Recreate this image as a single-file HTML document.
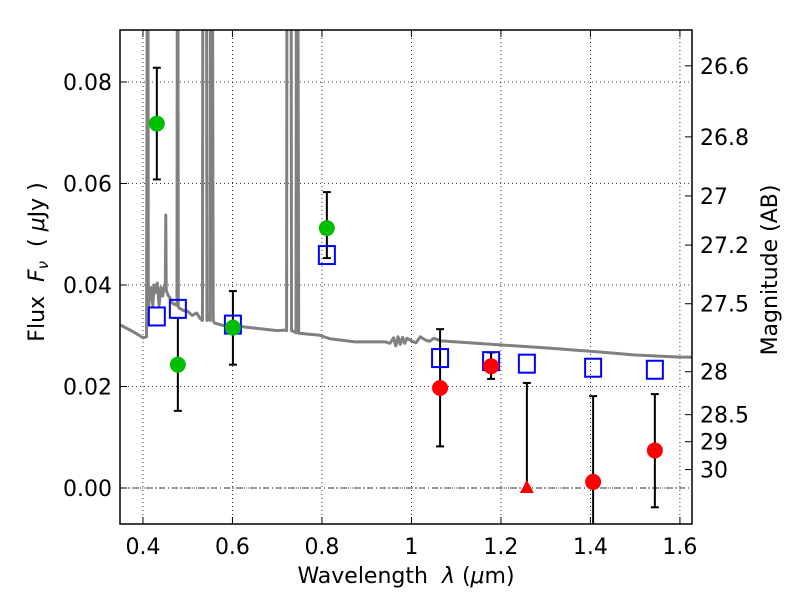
<!DOCTYPE html>
<html><head><meta charset="utf-8">
<style>
html,body{margin:0;padding:0;background:#fff;overflow:hidden;width:800px;height:600px;}
svg{display:block;}
svg text{font-family:"DejaVu Sans","Liberation Sans",sans-serif;}
</style></head>
<body>
<svg id="chart" width="800" height="600" viewBox="0 0 800 600" xmlns="http://www.w3.org/2000/svg">
<text x="406" y="583" font-size="22" text-anchor="middle" xml:space="preserve">Wavelength  <tspan font-style="italic">λ</tspan> (<tspan font-style="italic">μ</tspan>m)</text>
<text transform="translate(44,262) rotate(-90)" font-size="22" text-anchor="middle" xml:space="preserve">Flux  <tspan font-style="italic">F</tspan><tspan font-style="italic" font-size="15" dy="4">ν</tspan><tspan dy="-4">  ( </tspan><tspan font-style="italic">μ</tspan>Jy )</text>
<text transform="translate(777,270) rotate(-90)" font-size="22" text-anchor="middle">Magnitude (AB)</text>
</svg>
<script>
const xTicks=[0.4,0.6,0.8,1,1.2,1.4,1.6];
const xTickLabels=["0.4","0.6","0.8","1","1.2","1.4","1.6"];
const yTicks=[0,0.02,0.04,0.06,0.08];
const yTickLabels=["0.00","0.02","0.04","0.06","0.08"];
const magTicks=[26.6,26.8,27,27.2,27.5,28,28.5,29,30];
const magTickLabels=["26.6","26.8","27","27.2","27.5","28","28.5","29","30"];
const greenX=[0.431,0.478,0.601,0.811];
const greenY=[0.0718,0.0243,0.0316,0.0512];
const greenLo=[0.0608,0.0152,0.0243,0.0453];
const greenHi=[0.0828,0.0335,0.0388,0.0583];
const redX=[1.064,1.178,1.406,1.544];
const redY=[0.0197,0.0240,0.0012,0.0074];
const redLo=[0.0082,0.0215,-0.010,-0.0038];
const redHi=[0.0313,0.0267,0.0181,0.0185];
const triX=[1.258];
const triY=[0.0];
const triHi=[0.0207];
const modelX=[0.431,0.478,0.601,0.811,1.064,1.178,1.258,1.406,1.544];
const modelY=[0.0338,0.0353,0.0322,0.0459,0.0256,0.0250,0.0245,0.0237,0.0233];
const specX=[0.35,0.38,0.40,0.408,0.41,0.411,0.412,0.414,0.418,0.422,0.425,0.428,0.432,0.436,0.44,0.444,0.448,0.45,0.451,0.452,0.456,0.46,0.465,0.47,0.476,0.477,0.478,0.479,0.48,0.49,0.50,0.51,0.52,0.527,0.533,0.534,0.538,0.542,0.543,0.547,0.55,0.551,0.555,0.557,0.56,0.58,0.60,0.62,0.65,0.68,0.70,0.717,0.721,0.722,0.726,0.731,0.732,0.738,0.742,0.743,0.746,0.748,0.76,0.795,0.818,0.874,0.941,0.952,0.96,0.965,0.97,0.975,0.98,0.985,0.99,1.0,1.01,1.02,1.03,1.04,1.05,1.066,1.198,1.30,1.421,1.5,1.6,1.63];
const specY=[0.0321,0.0307,0.0296,0.0298,0.12,0.12,0.035,0.037,0.0395,0.036,0.040,0.0385,0.0404,0.036,0.0395,0.0378,0.040,0.0395,0.0538,0.039,0.038,0.0375,0.0365,0.0362,0.036,0.12,0.12,0.036,0.0355,0.035,0.0348,0.034,0.0345,0.0335,0.033,0.12,0.12,0.12,0.033,0.034,0.033,0.12,0.12,0.033,0.0325,0.032,0.0321,0.0318,0.0315,0.0312,0.031,0.0311,0.031,0.12,0.12,0.12,0.031,0.0308,0.0306,0.12,0.12,0.0305,0.0304,0.0301,0.0294,0.0288,0.0288,0.0285,0.0296,0.028,0.0298,0.0283,0.0297,0.0285,0.0295,0.029,0.0286,0.0298,0.0292,0.0289,0.0295,0.029,0.0282,0.0276,0.0268,0.0262,0.0258,0.0258];

const NS="http://www.w3.org/2000/svg";
const svg=document.getElementById('chart');
const L=120,R=692,T=30,B=524;
const xMin=0.3487,xMax=1.6270,yMin=-0.00709,yMax=0.09024;
const sx=v=>L+(v-xMin)/(xMax-xMin)*(R-L);
const sy=v=>B-(v-yMin)/(yMax-yMin)*(B-T);
const magToFlux=m=>Math.pow(10,(23.9-m)/2.5);
function el(tag,attrs,parent){const e=document.createElementNS(NS,tag);for(const k in attrs)e.setAttribute(k,attrs[k]);(parent||svg).appendChild(e);return e;}

const defs=el('defs',{});
const cp=el('clipPath',{id:'clip'},defs);
el('rect',{x:L,y:T,width:R-L,height:B-T},cp);

const grid=el('g',{});


xTicks.forEach(v=>{el('line',{x1:sx(v),x2:sx(v),y1:T,y2:B,stroke:'#000','stroke-width':0.8,'stroke-dasharray':'1,3'},grid);});
yTicks.forEach(v=>{el('line',{x1:L,x2:R,y1:sy(v),y2:sy(v),stroke:'#000','stroke-width':0.8,'stroke-dasharray':'1,3'},grid);});
const zl=el('line',{x1:L,x2:R,y1:sy(0),y2:sy(0),stroke:'#000','stroke-width':0.8,'stroke-dasharray':'6,3,1,3'});



const clipG=el('g',{'clip-path':'url(#clip)'});
const spec=el('polyline',{points:specX.map((x,i)=>sx(x)+','+sy(specY[i])).join(' '),fill:'none',stroke:'#808080','stroke-width':3,'stroke-linejoin':'round'},clipG);



function errbar(x,lo,hi,name,capLo){
  const g=el('g',{},clipG);
  
  
  el('line',{x1:sx(x),x2:sx(x),y1:sy(lo),y2:sy(hi),stroke:'#000','stroke-width':2},g);
  el('line',{x1:sx(x)-4,x2:sx(x)+4,y1:sy(hi),y2:sy(hi),stroke:'#000','stroke-width':2},g);
  if(capLo)el('line',{x1:sx(x)-4,x2:sx(x)+4,y1:sy(lo),y2:sy(lo),stroke:'#000','stroke-width':2},g);
}
greenX.forEach((x,i)=>errbar(x,greenLo[i],greenHi[i],'green-errorbar',true));
redX.forEach((x,i)=>errbar(x,redLo[i],redHi[i],'red-errorbar',redLo[i]>yMin));
triX.forEach((x,i)=>errbar(x,triY[i],triHi[i],'upper-limit-errorbar',false));

modelX.forEach((x,i)=>{
  const r=el('rect',{x:sx(x)-8,y:sy(modelY[i])-9,width:16,height:18,fill:'none',stroke:'#0000ff','stroke-width':2},clipG);
  
  
});
greenX.forEach((x,i)=>{
  const c=el('circle',{cx:sx(x),cy:sy(greenY[i]),r:8,fill:'#00bf00'},clipG);
  
  
});
redX.forEach((x,i)=>{
  const c=el('circle',{cx:sx(x),cy:sy(redY[i]),r:8,fill:'#ff0000'},clipG);
  
  
});
triX.forEach((x,i)=>{
  const X=sx(x),Y=sy(triY[i]);
  const p=el('polygon',{points:`${X},${Y-8} ${X-7},${Y+5} ${X+7},${Y+5}`,fill:'#ff0000'},clipG);
  
  
});

const frame=el('rect',{x:L,y:T,width:R-L,height:B-T,fill:'none',stroke:'#000','stroke-width':1.5});



const axes=el('g',{});


xTicks.forEach((v,i)=>{
  el('line',{x1:sx(v),x2:sx(v),y1:B,y2:B-7,stroke:'#000','stroke-width':1},axes);
  el('line',{x1:sx(v),x2:sx(v),y1:T,y2:T+7,stroke:'#000','stroke-width':1},axes);
  const t=el('text',{x:sx(v),y:B+30,'font-size':22,'text-anchor':'middle'},axes);
  t.textContent=xTickLabels[i];
  
  
});
yTicks.forEach((v,i)=>{
  el('line',{x1:L,x2:L+7,y1:sy(v),y2:sy(v),stroke:'#000','stroke-width':1},axes);
  const t=el('text',{x:L-8,y:sy(v)+8,'font-size':22,'text-anchor':'end'},axes);
  t.textContent=yTickLabels[i];
  
  
});
magTicks.forEach((m,i)=>{
  const y=sy(magToFlux(m));
  el('line',{x1:R,x2:R-7,y1:y,y2:y,stroke:'#000','stroke-width':1},axes);
  const t=el('text',{x:R+8,y:y+8,'font-size':22,'text-anchor':'start'},axes);
  t.textContent=magTickLabels[i];
  
  
});
</script>
</body></html>
